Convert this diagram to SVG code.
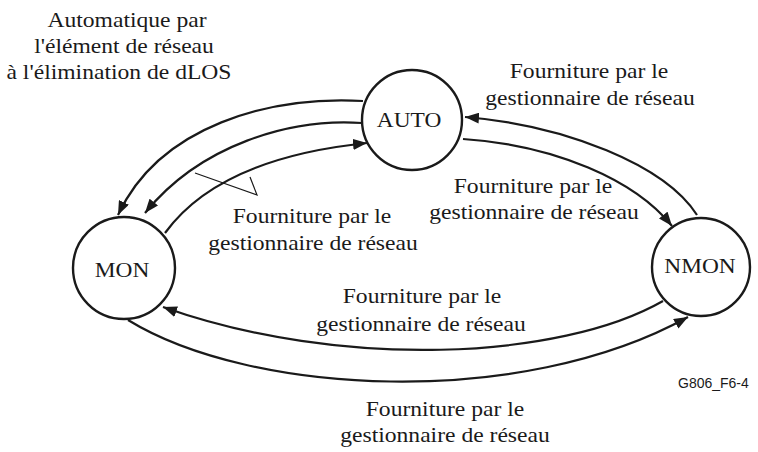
<svg xmlns="http://www.w3.org/2000/svg" width="758" height="452" viewBox="0 0 758 452">
<style>
.n{fill:none;stroke:#1a1a1a;stroke-width:2.4}
.c{fill:none;stroke:#1a1a1a;stroke-width:2.2}
.t{font-family:'Times New Roman','Liberation Serif',serif;font-size:20px;fill:#1a1a1a;text-anchor:middle}
.id{font-family:Arial,'Liberation Sans',sans-serif;font-size:14px;fill:#1a1a1a}
</style>
<defs>
<marker id="ah" markerUnits="userSpaceOnUse" markerWidth="14" markerHeight="11" refX="14" refY="5.5" orient="auto">
<path d="M0,0 L14,5.5 L0,11 z" fill="#1a1a1a"/>
</marker>
</defs>
<rect width="758" height="452" fill="#fff"/>
<g id="connectors">
<path class="c" d="M363,101 C270,96 160,125 118,215" marker-end="url(#ah)"/>
<path class="c" d="M362,123 C290,118 200,145 145,213" marker-end="url(#ah)"/>
<path class="c" d="M165,233 C205,178 280,152 367,143" marker-end="url(#ah)"/>
<path class="c" d="M697,215 C665,165 565,125 465,117" marker-end="url(#ah)"/>
<path class="c" d="M463,139 C555,145 635,180 672,226" marker-end="url(#ah)"/>
<path class="c" d="M663,301 C560,360 340,370 163,307" marker-end="url(#ah)"/>
<path class="c" d="M128,320 C250,395 520,410 688,317" marker-end="url(#ah)"/>
<polyline points="195,173 257,195 250,177" fill="none" stroke="#1a1a1a" stroke-width="1.2"/>
</g>
<g id="node-auto">
<circle class="n" cx="412" cy="120" r="50"/>
<text class="t" transform="translate(409,127) scale(1.17,1)">AUTO</text>
</g>
<g id="node-mon">
<circle class="n" cx="124" cy="268" r="51"/>
<text class="t" transform="translate(122,277) scale(1.17,1)">MON</text>
</g>
<g id="node-nmon">
<circle class="n" cx="701" cy="267" r="49"/>
<text class="t" transform="translate(700,273) scale(1.17,1)">NMON</text>
</g>
<g id="note-auto-mon">
<text class="t" transform="translate(127,27) scale(1.18,1)">Automatique par</text>
<text class="t" transform="translate(124,53) scale(1.18,1)">l'élément de réseau</text>
<text class="t" transform="translate(119,79) scale(1.18,1)">à l'élimination de dLOS</text>
</g>
<g id="note-nmon-auto">
<text class="t" transform="translate(589,78) scale(1.18,1)">Fourniture par le</text>
<text class="t" transform="translate(590,105) scale(1.18,1)">gestionnaire de réseau</text>
</g>
<g id="note-auto-nmon">
<text class="t" transform="translate(533,193) scale(1.18,1)">Fourniture par le</text>
<text class="t" transform="translate(534,219) scale(1.18,1)">gestionnaire de réseau</text>
</g>
<g id="note-mon-auto">
<text class="t" transform="translate(312,223) scale(1.18,1)">Fourniture par le</text>
<text class="t" transform="translate(313,250) scale(1.18,1)">gestionnaire de réseau</text>
</g>
<g id="note-nmon-mon">
<text class="t" transform="translate(422,303) scale(1.18,1)">Fourniture par le</text>
<text class="t" transform="translate(421,331) scale(1.18,1)">gestionnaire de réseau</text>
</g>
<g id="note-mon-nmon">
<text class="t" transform="translate(445,416) scale(1.18,1)">Fourniture par le</text>
<text class="t" transform="translate(445,442) scale(1.18,1)">gestionnaire de réseau</text>
</g>
<text class="id" x="678" y="388">G806_F6-4</text>
</svg>
